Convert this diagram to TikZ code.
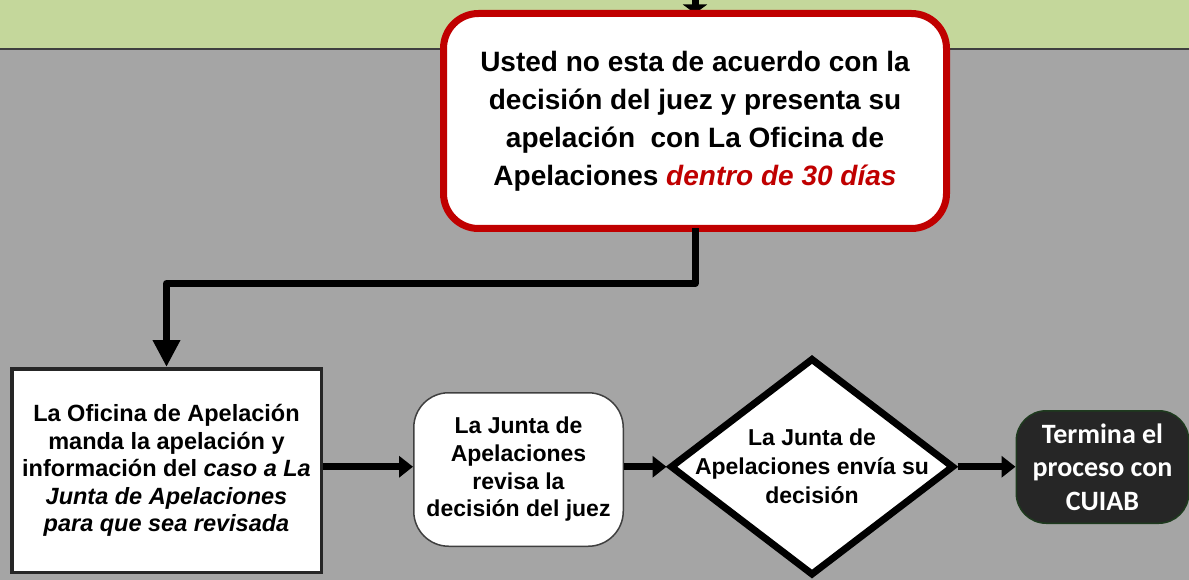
\documentclass[tikz,border=0pt]{standalone}
\usepackage{fontspec}
\setmainfont{Liberation Sans}
\newfontfamily\carlito{Carlito}
\usetikzlibrary{arrows.meta,shapes.geometric}
\definecolor{bggray}{HTML}{A5A5A5}
\definecolor{bandgreen}{HTML}{C4D79B}
\definecolor{bandline}{HTML}{3F3F3F}
\definecolor{boxred}{HTML}{C00000}
\definecolor{enddark}{HTML}{262626}
\definecolor{endborder}{HTML}{1E3A1E}
\tikzset{
  redbox/.style={draw=boxred, fill=white, line width=7pt, rounded corners=35pt,
    minimum width=503pt, minimum height=215pt, outer sep=0pt, align=center,
    font=\fontsize{28}{38}\selectfont\bfseries},
  sqbox/.style={draw=enddark, fill=white, line width=3.5pt,
    minimum width=309.5pt, minimum height=203.5pt, align=center,
    font=\fontsize{23.5}{27.5}\selectfont\bfseries},
  rndbox/.style={draw=bandline, fill=white, line width=1.5pt, rounded corners=35pt,
    minimum width=209.5pt, minimum height=153.5pt, align=center,
    font=\fontsize{23}{27.7}\selectfont\bfseries},
  decbox/.style={shape=diamond, draw=black, fill=white, line width=7pt,
    minimum width=284pt, minimum height=217.5pt, inner sep=0pt},
  dectext/.style={align=center, inner sep=0pt,
    font=\fontsize{23}{29}\selectfont\bfseries},
  endbox/.style={draw=endborder, fill=enddark, line width=1.5pt, rounded corners=30pt,
    minimum width=172.5pt, minimum height=112.5pt, align=center, text=white,
    font=\fontsize{28}{33.5}\selectfont\carlito\bfseries},
  bigarrow/.style={draw=black, line width=7pt, line join=round,
    -{Triangle[width=26pt,length=27pt]}},
  harrow/.style={draw=black, line width=7pt,
    -{Triangle[width=21pt,length=14pt]}},
  toparrow/.style={draw=black, line width=7pt,
    -{Triangle[width=24pt,length=9pt]}}
}
\begin{document}
\begin{tikzpicture}[x=1pt,y=1pt]
\useasboundingbox (0,0) rectangle (1189,-580);
\fill[bggray] (0,0) rectangle (1189,-580);
\fill[bandgreen] (0,0) rectangle (1189,-49);
\draw[bandline, line width=1.5pt] (0,-49) -- (1189,-49);

\coordinate (topsrc) at (695,0);
\draw[toparrow] (topsrc) -- (695,-13.5);

\node[redbox] (red) at (695,-121)
  {Usted no esta de acuerdo con la\\
   decisión del juez y presenta su\\
   apelación\ \ con La Oficina de\\
   Apelaciones \textcolor{boxred}{\itshape dentro de 30 días}};

\node[sqbox] (left) at (166.5,-470.5)
  {La Oficina de Apelación\\
   manda la apelación y\\
   información del \itshape caso a La\\
   \itshape Junta de Apelaciones\\
   \itshape para que sea revisada};

\node[rndbox] (junta) at (518.5,-469.5)
  {La Junta de\\ Apelaciones\\ revisa la\\ decisión del juez};

\node[decbox] (diam) at (812,-466.75) {};
\node[dectext] (diamtext) at (diam.center)
  {La Junta de\\ Apelaciones envía su\\ decisión};

\node[endbox] (endn) at (1102.5,-467)
  {Termina el\\ proceso con\\ CUIAB};

\draw[bigarrow] (red.south) -- (695,-283.5) -- (166.5,-283.5) -- (left.north);
\draw[harrow] (left.east |- diam.west) -- (junta.west |- diam.west);
\draw[harrow] (junta.east |- diam.west) -- (diam.west);
\draw[harrow] (diam.east) -- (endn.west |- diam.east);
\end{tikzpicture}
\end{document}
